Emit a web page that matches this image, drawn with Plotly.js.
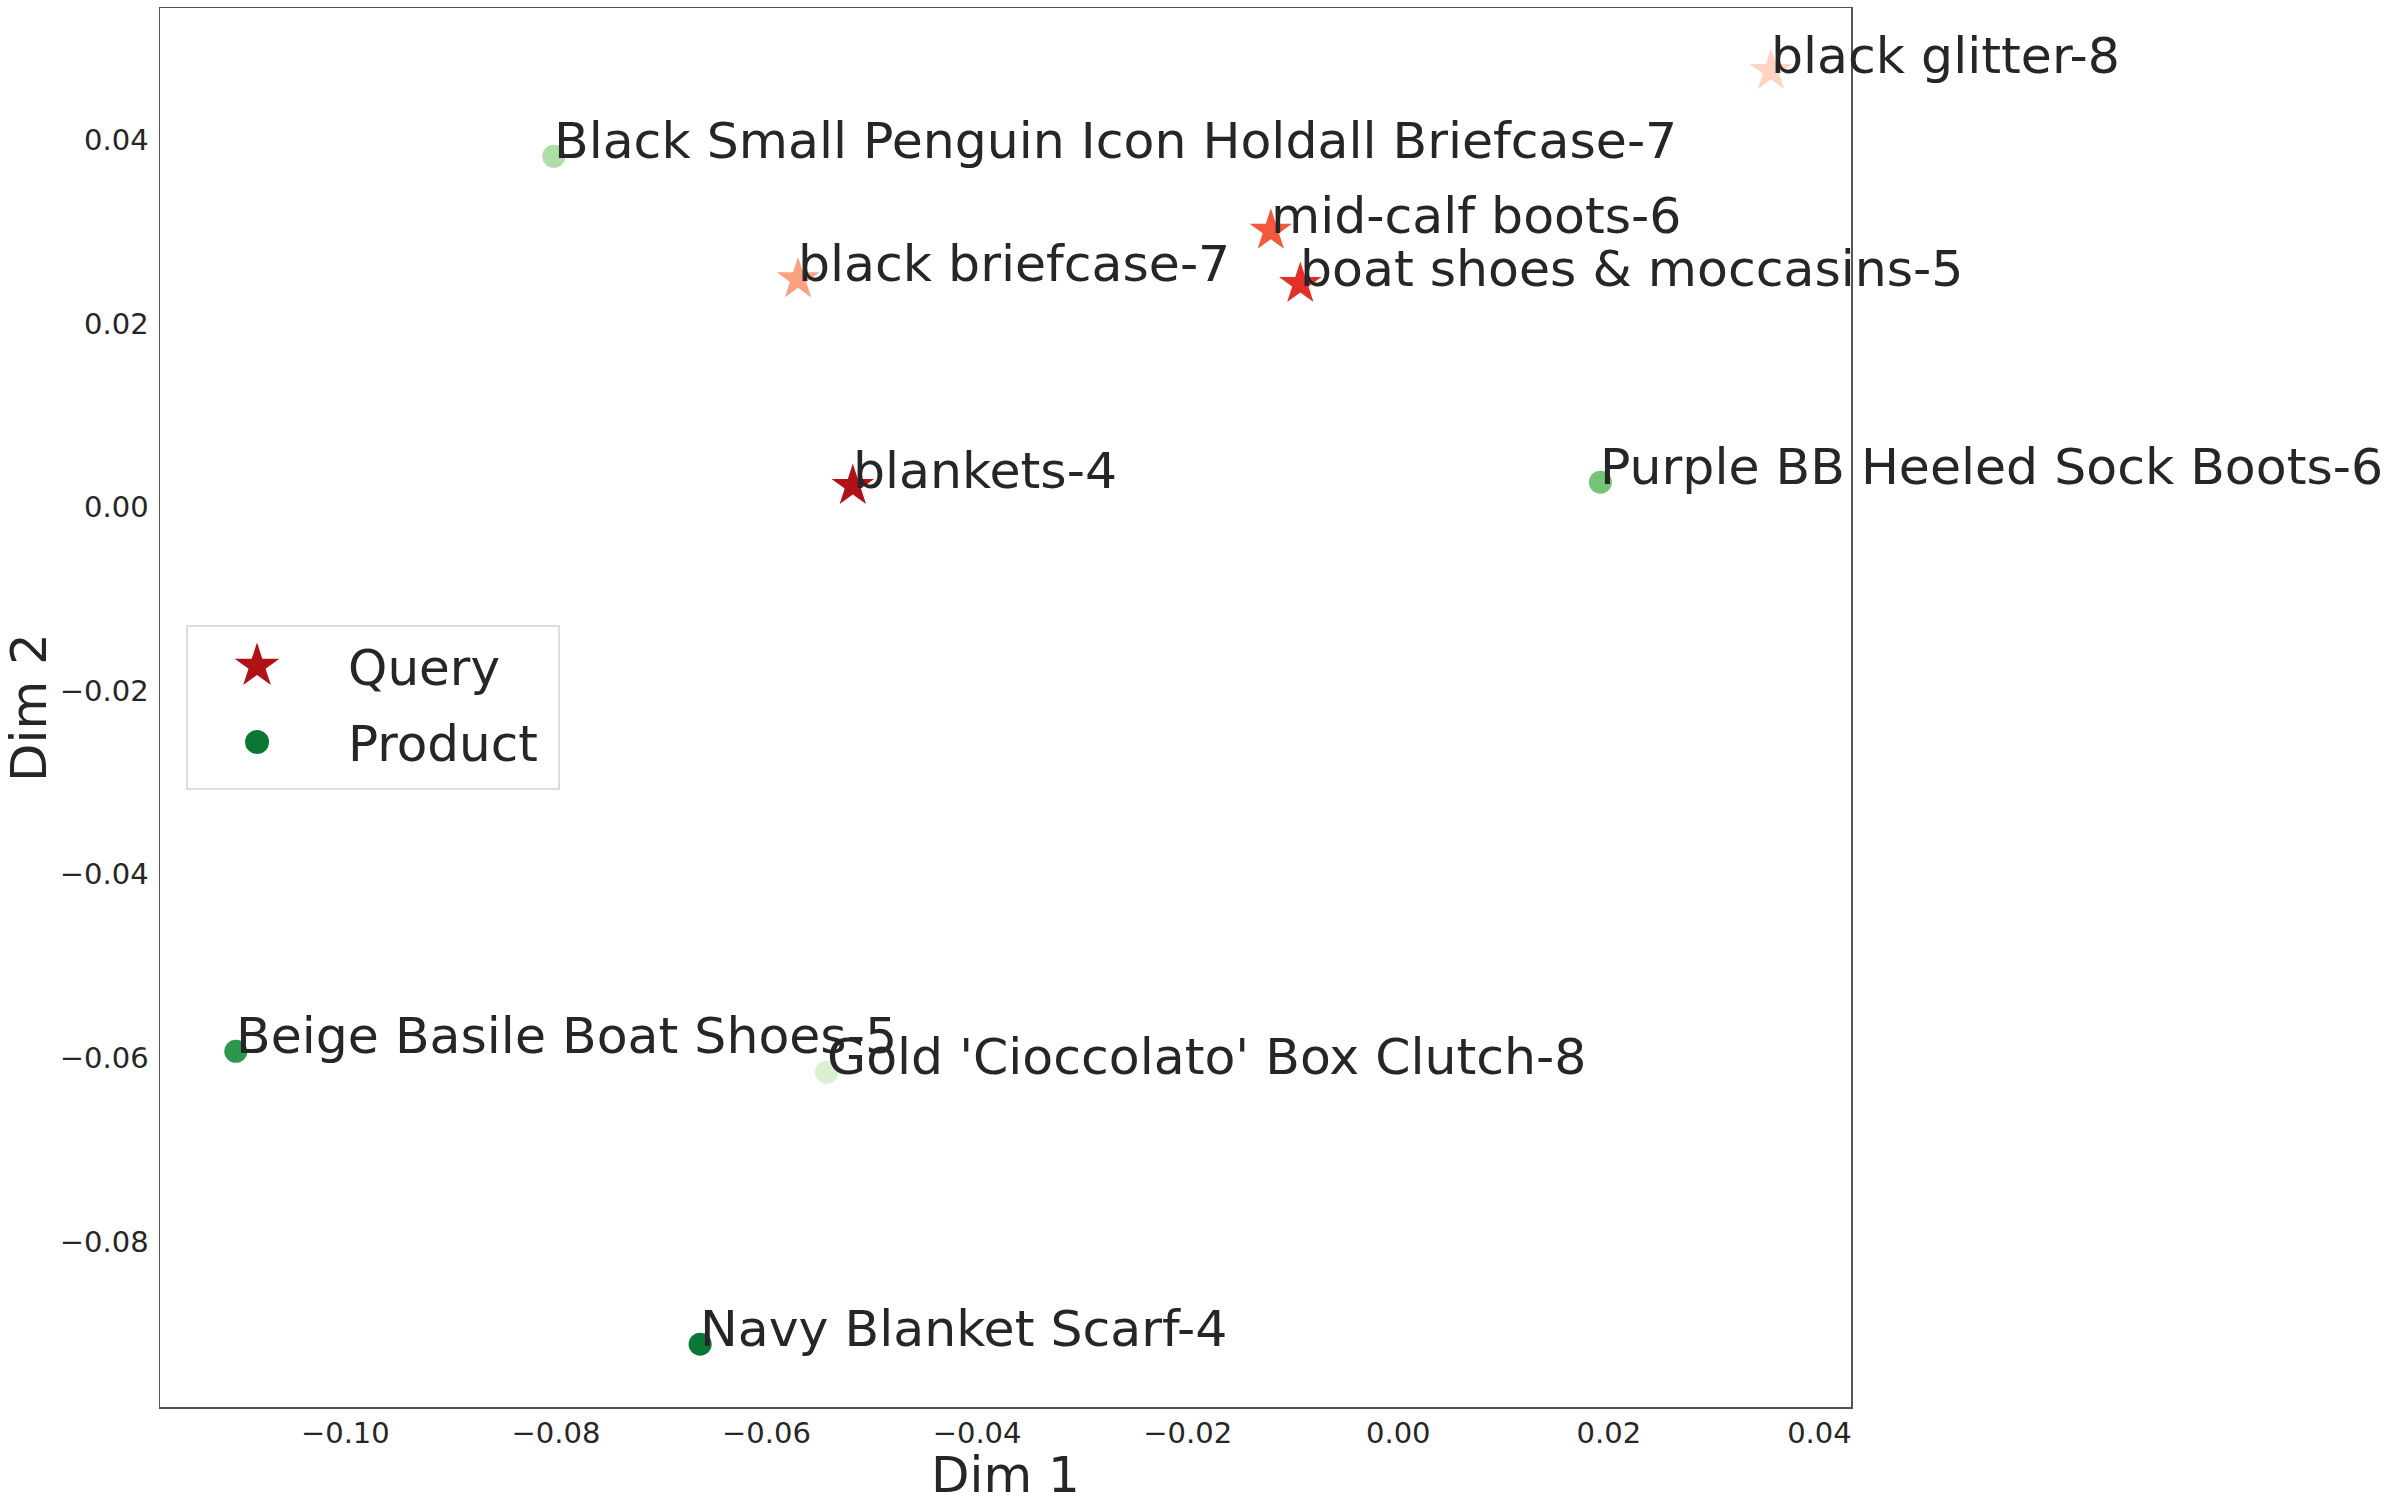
<!DOCTYPE html>
<html>
<head>
<meta charset="utf-8">
<script src="https://cdn.plot.ly/plotly-3.0.1.min.js"></script>
<style>
  html, body { margin: 0; padding: 0; background: #ffffff; }
  #chart { width: 2392px; height: 1504px; }
</style>
</head>
<body>
<div id="chart"></div>
<script>
// ---- Data ----
const queryLabels = ["blankets-4", "boat shoes & moccasins-5", "mid-calf boots-6", "black briefcase-7", "black glitter-8"];
const queryX = [-0.0518, -0.0093, -0.0121, -0.0570, 0.0354];
const queryY = [0.0023, 0.0243, 0.0301, 0.0248, 0.0475];
const queryColors = ["#b11218", "#e32f27", "#f6583e", "#fca082", "#fdd4c2"];

const productLabels = ["Navy Blanket Scarf-4", "Beige Basile Boat Shoes-5", "Purple BB Heeled Sock Boots-6", "Black Small Penguin Icon Holdall Briefcase-7", "Gold 'Cioccolato' Box Clutch-8"];
const productX = [-0.0663, -0.1104, 0.0192, -0.0802, -0.0543];
const productY = [-0.0912, -0.0593, 0.0027, 0.0382, -0.0616];
const productColors = ["#0b7734", "#2e974e", "#73c476", "#acdea6", "#d9f0d3"];

const legendQueryColor = "#b11218";
const legendProductColor = "#0b7734";

const xTicks = [-0.10, -0.08, -0.06, -0.04, -0.02, 0.00, 0.02, 0.04];
const xTickText = ["\u22120.10", "\u22120.08", "\u22120.06", "\u22120.04", "\u22120.02", "0.00", "0.02", "0.04"];
const yTicks = [-0.08, -0.06, -0.04, -0.02, 0.00, 0.02, 0.04];
const yTickText = ["\u22120.08", "\u22120.06", "\u22120.04", "\u22120.02", "0.00", "0.02", "0.04"];

// ---- Traces ----
const FONT = "DejaVu Sans, Liberation Sans, sans-serif";
const TXT = "#262626";

const traces = [
  {
    type: "scatter", mode: "markers", name: "Query",
    legendgroup: "q",
    x: queryX, y: queryY, text: queryLabels,
    marker: { symbol: "star", size: 32, color: queryColors, line: { width: 0 } },
    hoverinfo: "text"
  },
  {
    type: "scatter", mode: "markers", name: "Product",
    legendgroup: "p",
    x: productX, y: productY, text: productLabels,
    marker: { symbol: "circle", size: 23, color: productColors, line: { width: 0 } },
    hoverinfo: "text"
  }
];

const annotations = [];
function addLabels(xs, ys, labels) {
  for (let i = 0; i < labels.length; i++) {
    annotations.push({
      x: xs[i], y: ys[i], xref: "x", yref: "y",
      text: labels[i], showarrow: false,
      xanchor: "left", yanchor: "bottom",
      xshift: -2, yshift: -16,
      font: { family: FONT, size: 50.5, color: TXT }
    });
  }
}
addLabels(queryX, queryY, queryLabels);
addLabels(productX, productY, productLabels);

const axisCommon = {
  showgrid: false, zeroline: false,
  showline: true, mirror: true, linecolor: "#555555", linewidth: 1.5,
  ticks: "",
  tickfont: { family: FONT, size: 29, color: TXT }
};

const layout = {
  width: 2392, height: 1504,
  paper_bgcolor: "#ffffff", plot_bgcolor: "#ffffff",
  margin: { l: 160, r: 541, t: 8, b: 97 },
  font: { family: FONT, color: TXT },
  showlegend: true,
  legend: {
    x: 0.0154, y: 0.559, xanchor: "left", yanchor: "top",
    bgcolor: "rgba(255,255,255,0.8)", bordercolor: "#dddddd", borderwidth: 2,
    font: { family: FONT, size: 50, color: TXT },
    itemwidth: 150, tracegroupgap: 8
  },
  xaxis: Object.assign({}, axisCommon, {
    range: [-0.1176, 0.0430],
    tickmode: "array", tickvals: xTicks, ticktext: xTickText,
    ticklabelstandoff: 0,
    title: { text: "Dim 1", font: { family: FONT, size: 50, color: TXT }, standoff: 4 }
  }),
  yaxis: Object.assign({}, axisCommon, {
    range: [-0.09804, 0.05435],
    tickmode: "array", tickvals: yTicks, ticktext: yTickText,
    ticklabelstandoff: 4,
    title: { text: "Dim 2", font: { family: FONT, size: 50, color: TXT }, standoff: 22 }
  }),
  annotations: annotations
};

Plotly.newPlot("chart", traces, layout, { displayModeBar: false, staticPlot: true }).then(function (gd) {
  // legend markers are capped at 16px by Plotly: enlarge them and give each a single colour
  const groups = gd.querySelectorAll(".legend .traces");
  groups.forEach(function (g, i) {
    const p = g.querySelector("path.scatterpts");
    if (!p) return;
    const scale = i === 0 ? 2.1 : 1.5;
    const t = p.getAttribute("transform") || "";
    p.setAttribute("transform", "translate(-11,0) " + t + " scale(" + scale + ")");
    p.style.fill = i === 0 ? legendQueryColor : legendProductColor;
  });
  // widen the legend frame slightly to match the reference padding
  const bg = gd.querySelector(".legend rect.bg");
  if (bg) {
    bg.setAttribute("width", parseFloat(bg.getAttribute("width")) + 15);
    bg.setAttribute("height", parseFloat(bg.getAttribute("height")) + 7);
  }
});
</script>
</body>
</html>
